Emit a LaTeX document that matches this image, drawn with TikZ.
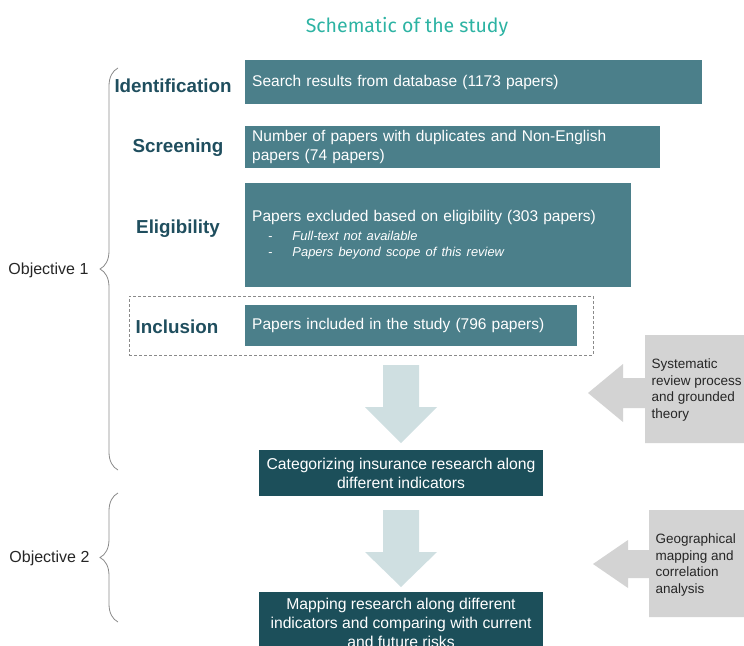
\documentclass[tikz,border=0pt]{standalone}
\usepackage{fontspec}
\setmainfont{Liberation Sans}
\newfontfamily\titlefont{Fira Sans}
\usetikzlibrary{decorations.pathreplacing}
\setlength\parindent{0pt}

\definecolor{boxteal}{HTML}{4B7F8A}
\definecolor{darkteal}{HTML}{1C4F5A}
\definecolor{labelteal}{HTML}{1F4E5E}
\definecolor{titleteal}{HTML}{2DB3A3}
\definecolor{arrowblue}{HTML}{CFDFE1}
\definecolor{sidegray}{HTML}{D3D3D3}
\definecolor{bracegray}{HTML}{8A8A8A}

\tikzset{
	stagebox/.style={fill=boxteal, text=white, anchor=north west, inner xsep=7pt, inner ysep=0pt, align=left, font=\fontsize{15.5}{19.5}\selectfont},
	stagelabel/.style={text=labelteal, font=\bfseries\fontsize{18.8}{22}\selectfont},
	resultbox/.style={fill=darkteal, text=white, minimum width=284pt, align=center, font=\fontsize{15.7}{19}\selectfont},
	objbrace/.style={draw=bracegray, line width=0.8pt, decorate, decoration={brace, amplitude=18pt}},
	objlabel/.style={anchor=east, text=black!85, font=\fontsize{16}{19}\selectfont},
	flowarrow/.style={fill=arrowblue},
	sidearrow/.style={fill=sidegray},
	sidetext/.style={anchor=west, align=left, text=black!85, font=\fontsize{13.5}{16.5}\selectfont}
}

\begin{document}
\begin{tikzpicture}[x=1pt,y=-1pt]

	\clip (0,0) rectangle (744,645);

	% titre
	\node[font=\titlefont\fontsize{19.5}{23}\selectfont, text=titleteal] (title) at (407,27) {Schematic of the study};

	% etapes de la revue
	\node[stagebox, text width=443pt, minimum height=44pt] (ident) at (245,60) {Search results from database (1173 papers)};
	\node[stagebox, text width=401pt, minimum height=42pt] (screen) at (245,126) {Number of papers with duplicates and Non-English\\papers (74 papers)};
	\node[stagebox, text width=372pt, minimum height=104pt] (elig) at (245,183) {%
		{Papers excluded based on eligibility (303 papers)\par}\vspace{3pt}
		{\itshape\fontsize{12.9}{16}\selectfont
		\hspace*{16pt}-\hspace{20pt}Full-text not available\par
		\hspace*{16pt}-\hspace{20pt}Papers beyond scope of this review\par}};
	\node[draw=bracegray, densely dashed, minimum width=464pt, minimum height=59pt, anchor=north west] (inclframe) at (129,296) {};
	\node[stagebox, text width=318pt, minimum height=41pt] (incl) at (245,305) {Papers included in the study (796 papers)};

	\node[stagelabel] (identlabel) at (173,86) {Identification};
	\node[stagelabel] (screenlabel) at (178,148) {Screening};
	\node[stagelabel] (eliglabel) at (178,229) {Eligibility};
	\node[stagelabel] (incllabel) at (177,327) {Inclusion};

	% resultats
	\node[resultbox, minimum height=46pt] (categ) at (401,473) {Categorizing insurance research along\\different indicators};
	\node[resultbox, minimum height=62pt, anchor=north] (mapping) at (401,592) {Mapping research along different\\indicators and comparing with current\\and future risks};

	% fleches vers le bas
	\fill[flowarrow] (383,365) -- (419,365) -- (419,407) -- (437,407) -- (401,443) -- (365,407) -- (383,407) -- cycle;
	\fill[flowarrow] (383,510) -- (419,510) -- (419,552) -- (437,552) -- (401,587) -- (365,552) -- (383,552) -- cycle;

	% methodes
	\fill[sidearrow] (645,335) -- (744,335) -- (744,443) -- (645,443) -- (645,408) -- (623,408)
		-- (623,422) -- (588,393) -- (623,364) -- (623,378) -- (645,378) -- cycle;
	\node[sidetext] (method1) at (648,390) {Systematic\\review process\\and grounded\\theory};

	\fill[sidearrow] (649,510) -- (744,510) -- (744,617) -- (649,617) -- (649,578) -- (628,578)
		-- (628,588) -- (593,564) -- (628,540) -- (628,550) -- (649,550) -- cycle;
	\node[sidetext] (method2) at (652,565) {Geographical\\mapping and\\correlation\\analysis};

	% objectifs
	\draw[objbrace] (118,470) -- (118,68);
	\node[objlabel] (obj1) at (92,270) {Objective 1};
	\draw[objbrace] (118,622) -- (118,493);
	\node[objlabel] (obj2) at (93,558) {Objective 2};

\end{tikzpicture}
\end{document}
